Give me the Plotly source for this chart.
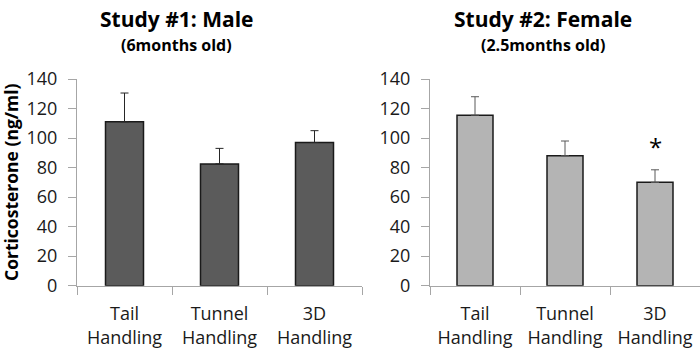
import plotly.graph_objects as go

categories = ["Tail<br>Handling", "Tunnel<br>Handling", "3D<br>Handling"]
male_values = [111, 82.5, 97]
male_errors = [19.5, 10.5, 8]
female_values = [115.5, 88, 70]
female_errors = [12.5, 10, 8.5]
y_ticks = [0, 20, 40, 60, 80, 100, 120, 140]

FONT = "Open Sans, Carlito, Calibri, sans-serif"
W, H = 700, 355

fig = go.Figure()
fig.add_trace(go.Bar(
    x=categories, y=male_values, xaxis="x", yaxis="y",
    marker=dict(color="#5b5b5b", line=dict(color="#1a1a1a", width=1.5)),
    width=0.4,
    error_y=dict(type="data", array=male_errors, arrayminus=[0, 0, 0], symmetric=False,
                 color="#262626", thickness=1, width=4),
))
fig.add_trace(go.Bar(
    x=categories, y=female_values, xaxis="x2", yaxis="y2",
    marker=dict(color="#b4b4b4", line=dict(color="#1a1a1a", width=1.5)),
    width=0.4,
    error_y=dict(type="data", array=female_errors, arrayminus=[0, 0, 0], symmetric=False,
                 color="#595959", thickness=1, width=4),
))

ydom = [(355 - 285.7) / H, (355 - 79) / H]
axis_common = dict(showgrid=False, zeroline=False, showline=True, linecolor="#a6a6a6", linewidth=1,
                   ticks="outside", tickcolor="#a6a6a6", ticklen=8, automargin=False,
                   tickfont=dict(family=FONT, size=18, color="#1a1a1a"))
fig.update_layout(
    width=W, height=H, margin=dict(l=0, r=0, t=0, b=0),
    paper_bgcolor="white", plot_bgcolor="white", showlegend=False, bargap=0.6,
    xaxis=dict(domain=[77 / W, 362 / W], anchor="y", tickson="boundaries", ticklabelstandoff=12, **axis_common),
    yaxis=dict(domain=ydom, anchor="x", range=[0, 140], tickvals=y_ticks, ticklabelstandoff=7, **axis_common),
    xaxis2=dict(domain=[430 / W, 700 / W], anchor="y2", tickson="boundaries", ticklabelstandoff=12, **axis_common),
    yaxis2=dict(domain=ydom, anchor="x2", range=[0, 140], tickvals=y_ticks, ticklabelstandoff=7, **axis_common),
)

ann_font = dict(family=FONT, color="#000000")
fig.add_annotation(text="<b>Study #1: Male</b>", x=177 / W, y=(355 - 19) / H, xref="paper", yref="paper",
                   showarrow=False, font=dict(size=21, **ann_font), xanchor="center", yanchor="middle")
fig.add_annotation(text="<b>(6months old)</b>", x=177 / W, y=(355 - 45) / H, xref="paper", yref="paper",
                   showarrow=False, font=dict(size=16, **ann_font), xanchor="center", yanchor="middle")
fig.add_annotation(text="<b>Study #2: Female</b>", x=543 / W, y=(355 - 19) / H, xref="paper", yref="paper",
                   showarrow=False, font=dict(size=21, **ann_font), xanchor="center", yanchor="middle")
fig.add_annotation(text="<b>(2.5months old)</b>", x=543 / W, y=(355 - 45) / H, xref="paper", yref="paper",
                   showarrow=False, font=dict(size=16, **ann_font), xanchor="center", yanchor="middle")
fig.add_annotation(text="<b>Corticosterone (ng/ml)</b>", x=11 / W, y=(355 - 182) / H,
                   xref="paper", yref="paper", textangle=-90, showarrow=False,
                   font=dict(size=17.5, **ann_font), xanchor="center", yanchor="middle")
fig.add_annotation(text="*", x=categories[2], y=female_values[2] + female_errors[2] + 16,
                   xref="x2", yref="y2", showarrow=False,
                   font=dict(size=24, **ann_font), xanchor="center", yanchor="middle")

fig.write_html("out.html", post_script="document.body.style.margin='0';",
               config={"displayModeBar": False})
